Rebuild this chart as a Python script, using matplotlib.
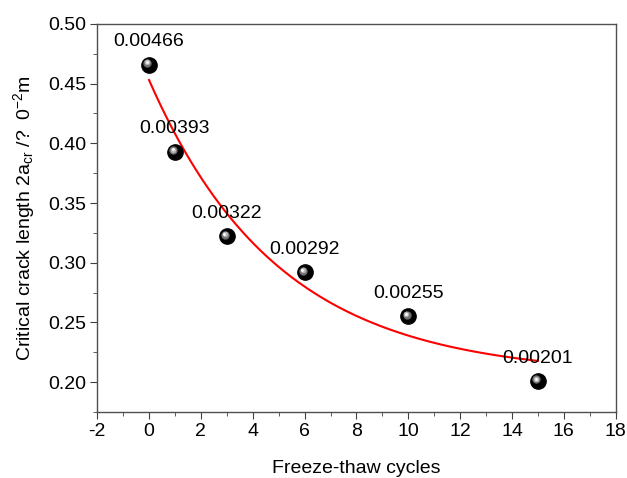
import numpy as np
import matplotlib
matplotlib.use("Agg")
import matplotlib.pyplot as plt
from matplotlib.ticker import MultipleLocator, FormatStrFormatter
from matplotlib.transforms import offset_copy

plt.rcParams['font.family'] = ['Liberation Sans', 'DejaVu Sans']
plt.rcParams['mathtext.fontset'] = 'custom'
plt.rcParams['mathtext.rm'] = 'Liberation Sans'
plt.rcParams['mathtext.it'] = 'Liberation Sans:italic'
plt.rcParams['axes.unicode_minus'] = False

## data
cycles = [0, 1, 3, 6, 10, 15]
crack_len = [0.466, 0.393, 0.322, 0.292, 0.255, 0.201]
labels = ["0.00466", "0.00393", "0.00322", "0.00292", "0.00255", "0.00201"]

## exponential decay fit y = y0 + A*exp(-x/t) (parameters estimated from the red curve)
fit_y0 = 0.2055
fit_A = 0.2475
fit_t = 5.0

fig = plt.figure(figsize=(6.27, 4.78), dpi=100)
ax = fig.add_axes([0.155, 0.138, 0.827, 0.812])

xf = np.linspace(0, 15, 200)
ax.plot(xf, fit_y0 + fit_A * np.exp(-xf / fit_t), color="red", lw=1.5, zorder=2)

## shaded ball markers
ax.plot(cycles, crack_len, "o", ms=11, color="black", mec="black", zorder=3)
tr1 = offset_copy(ax.transData, fig=fig, x=-1.2, y=1.2, units="points")
ax.plot(cycles, crack_len, "o", ms=6, color="#6e6e6e", mec="none", transform=tr1, zorder=4)
tr2 = offset_copy(ax.transData, fig=fig, x=-1.5, y=1.5, units="points")
ax.plot(cycles, crack_len, "o", ms=4, color="#b5b5b5", mec="none", transform=tr2, zorder=5)
tr3 = offset_copy(ax.transData, fig=fig, x=-1.7, y=1.7, units="points")
ax.plot(cycles, crack_len, "o", ms=2, color="white", mec="none", transform=tr3, zorder=5)

for x, y, s in zip(cycles, crack_len, labels):
    ax.annotate(s, (x, y), xytext=(0, 16.5), textcoords="offset points",
                ha="center", va="center", fontsize=14, zorder=6)

ax.set_xlim(-2, 18)
ax.set_ylim(0.175, 0.50)
ax.xaxis.set_major_locator(MultipleLocator(2))
ax.xaxis.set_minor_locator(MultipleLocator(1))
ax.yaxis.set_major_locator(MultipleLocator(0.05))
ax.yaxis.set_minor_locator(MultipleLocator(0.025))
ax.yaxis.set_major_formatter(FormatStrFormatter("%.2f"))
ax.tick_params(which="both", direction="out", top=False, right=False, labelsize=14, color="#404040")
ax.tick_params(which="major", length=5, pad=3)
ax.tick_params(which="minor", length=3)
for sp in ax.spines.values():
    sp.set_color("#505050")
    sp.set_linewidth(1.0)

ax.set_xlabel("Freeze-thaw cycles", fontsize=14, labelpad=14)
ax.set_ylabel(r"Critical crack length 2a$_{\mathrm{cr}}$ /?  0$^{-2}$m", fontsize=14, labelpad=8)

fig.savefig("out.png", dpi=100)
